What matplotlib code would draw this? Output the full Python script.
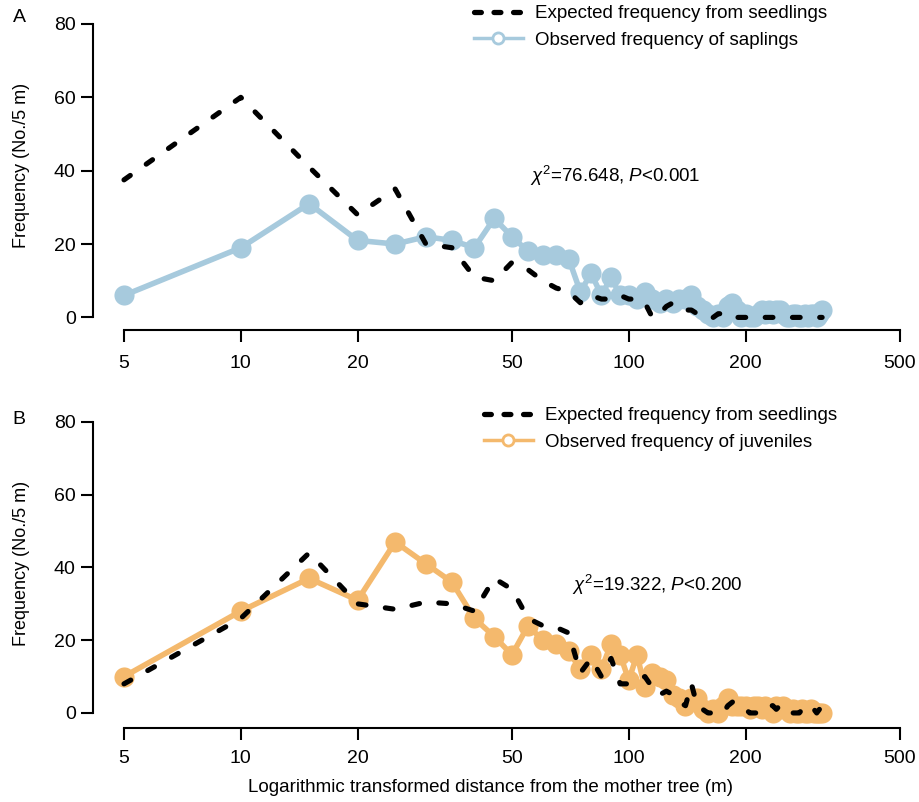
import numpy as np
import matplotlib
matplotlib.use("Agg")
import matplotlib.pyplot as plt
from matplotlib.lines import Line2D

plt.rcParams['font.family'] = ['Liberation Sans', 'DejaVu Sans']
plt.rcParams['mathtext.fontset'] = 'custom'
plt.rcParams['mathtext.rm'] = 'Liberation Sans'
plt.rcParams['mathtext.it'] = 'Liberation Sans:italic'

# distance classes (m)
distance = [5, 10, 15, 20, 25, 30, 35, 40, 45, 50, 55, 60, 65, 70, 75, 80,
            85, 90, 95, 100, 105, 110, 115, 120, 125, 130, 135, 140, 145, 150,
            155, 160, 165, 170, 175, 180, 185, 190, 195, 200, 205, 210, 215,
            220, 225, 230, 235, 240, 245, 250, 255, 260, 265, 270, 275, 280,
            285, 290, 295, 300, 305, 310, 315]

# panel A
expected_a = [37.5, 60, 41, 28, 35, 20, 19, 11, 10, 15, 13, 10, 8, 7, 4, 6,
              5, 5, 6, 5, 5, 4, 0, 1, 3, 4, 3, 2, 2, 1,
              0, 0, 0, 1, 1, 0, 0, 0, 0, 0, 0, 0, 0,
              0, 0, 0, 0, 0, 0, 0, 0, 0, 0, 0, 0, 0,
              0, 0, 0, 0, 0, 0, 0]
saplings = [6, 19, 31, 21, 20, 22, 21, 19, 27, 22, 18, 17, 17, 16, 7, 12,
            6, 11, 6, 6, 5, 7, 5, 4, 5, 4, 5, 5, 6, 3,
            2, 1, 0, 1, 0, 3, 4, 2, 0, 1, 0, 0, 1,
            2, 1, 2, 1, 2, 2, 1, 0, 0, 1, 1, 0, 0,
            1, 0, 1, 1, 0, 1, 2]

# panel B
expected_b = [8, 26, 44, 30, 28.5, 30.5, 30, 28, 37, 34, 26, 24, 23.5, 22, 11, 15,
              10, 15, 8, 8, 9, 10, 7, 5, 6, 5, 3, 2, 8, 2,
              1, 0, 0, 0, 0, 2, 3, 2, 1, 1, 0, 0, 0,
              0, 1, 2, 2, 1, 2, 2, 1, 0, 0, 0, 0, 1,
              0, 1, 1, 1, 0, 1, 0]
juveniles = [10, 28, 37, 31, 47, 41, 36, 26, 21, 16, 24, 20, 19, 17, 12, 16,
             12, 19, 16, 9, 16, 7, 11, 10, 9, 5, 4, 2, 4, 4,
             1, 0, 1, 0, 2, 4, 2, 2, 2, 2, 1, 2, 2,
             1, 2, 1, 0, 2, 1, 2, 1, 0, 1, 0, 0, 1,
             0, 0, 1, 0, 0, 0, 0]

xticks = [5, 10, 20, 50, 100, 200, 500]
yticks = [0, 20, 40, 60, 80]

blue = '#a7cadd'
orange = '#f4b96d'

W, H = 919, 802
fig = plt.figure(figsize=(W / 100, H / 100), dpi=100)


def px(x0, y0, x1, y1):
    return [x0 / W, 1 - y1 / H, (x1 - x0) / W, (y1 - y0) / H]


def panel(rect, ylo, exp, obs, col, stat, stat_xy, leg_xy, obs_label, xpad):
    ax = fig.add_axes(rect)
    ax.plot(distance, exp, color='k', lw=3.7, ls=(0, (1.5, 3.8)),
            dash_capstyle='round', zorder=3)
    ax.plot(distance, obs, color=col, lw=4, marker='o', ms=14.5,
            mec='none', zorder=2, solid_capstyle='round')
    ax.set_xscale('log')
    ax.set_xlim(4.16, 500)
    ax.set_ylim(ylo, 80)
    ax.set_xticks(xticks)
    ax.set_xticklabels([str(t) for t in xticks])
    ax.xaxis.set_minor_locator(matplotlib.ticker.NullLocator())
    ax.set_yticks(yticks)
    for s in ['top', 'right']:
        ax.spines[s].set_visible(False)
    ax.spines['left'].set_bounds(0, 80)
    ax.spines['bottom'].set_bounds(5, 500)
    for s in ['left', 'bottom']:
        ax.spines[s].set_linewidth(1.5)
    ax.tick_params(axis='both', width=1.5, length=8.5, labelsize=14)
    ax.tick_params(axis='x', pad=xpad)
    ax.tick_params(axis='y', pad=4)
    ax.text(stat_xy[0], stat_xy[1], stat, fontsize=13.5, va='center')

    h_exp = Line2D([], [], color='k', lw=3.8, ls=(0, (1.3, 2.4)),
                   dash_capstyle='round')
    h_obs = Line2D([], [], color=col, lw=2.5, marker='o', ms=8,
                   mfc='white', mec=col, mew=2)
    fig.legend([h_exp, h_obs],
               ['Expected frequency from seedlings', obs_label],
               loc='upper left', bbox_to_anchor=leg_xy, frameon=False,
               fontsize=13.5, handlelength=2.6, handletextpad=0.65,
               labelspacing=0.5, borderpad=0, borderaxespad=0)
    return ax


ax1 = panel(px(93, 24, 900, 329.5), -3.3, expected_a, saplings, blue,
            r'$\chi^2$=76.648, $P$<0.001', (55.5, 38.5),
            (474 / W, 1 - 5 / H), 'Observed frequency of saplings', 10)
ax2 = panel(px(93, 422, 900, 727.5), -4.0, expected_b, juveniles, orange,
            r'$\chi^2$=19.322, $P$<0.200', (71.5, 35.2),
            (484 / W, 1 - 407 / H), 'Observed frequency of juveniles', 8)

fig.text(19 / W, 1 - 18 / H, 'A', fontsize=14, ha='center', va='center')
fig.text(19 / W, 1 - 420 / H, 'B', fontsize=14, ha='center', va='center')
fig.text(22 / W, 1 - 165 / H, 'Frequency (No./5 m)', fontsize=13,
         rotation=90, ha='center', va='center')
fig.text(22 / W, 1 - 563 / H, 'Frequency (No./5 m)', fontsize=13,
         rotation=90, ha='center', va='center')
fig.text(490 / W, 1 - 787 / H,
         'Logarithmic transformed distance from the mother tree (m)',
         fontsize=13.5, ha='center', va='center')

fig.savefig('out.png', dpi=100)
